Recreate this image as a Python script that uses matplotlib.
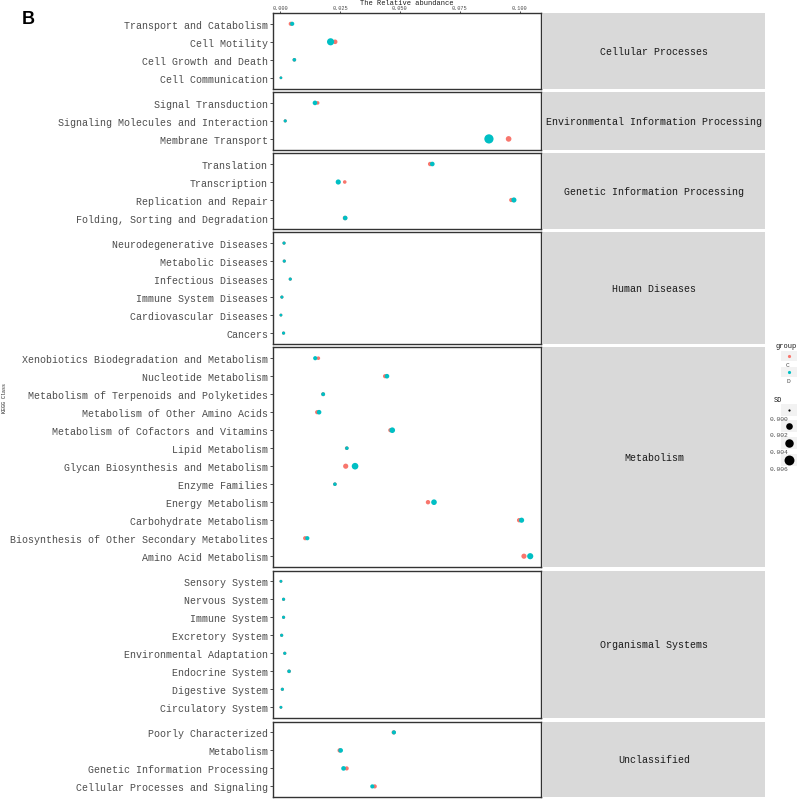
import numpy as np
import matplotlib
matplotlib.use("Agg")
import matplotlib.pyplot as plt
from matplotlib.patches import Rectangle

# KEGG level-1 classes (facet order)
classes = ["Cellular Processes", "Environmental Information Processing",
           "Genetic Information Processing", "Human Diseases", "Metabolism",
           "Organismal Systems", "Unclassified"]

# pathways, top to bottom within each class
pathway = [
    "Transport and Catabolism", "Cell Motility", "Cell Growth and Death", "Cell Communication",
    "Signal Transduction", "Signaling Molecules and Interaction", "Membrane Transport",
    "Translation", "Transcription", "Replication and Repair", "Folding, Sorting and Degradation",
    "Neurodegenerative Diseases", "Metabolic Diseases", "Infectious Diseases",
    "Immune System Diseases", "Cardiovascular Diseases", "Cancers",
    "Xenobiotics Biodegradation and Metabolism", "Nucleotide Metabolism",
    "Metabolism of Terpenoids and Polyketides", "Metabolism of Other Amino Acids",
    "Metabolism of Cofactors and Vitamins", "Lipid Metabolism",
    "Glycan Biosynthesis and Metabolism", "Enzyme Families", "Energy Metabolism",
    "Carbohydrate Metabolism", "Biosynthesis of Other Secondary Metabolites",
    "Amino Acid Metabolism",
    "Sensory System", "Nervous System", "Immune System", "Excretory System",
    "Environmental Adaptation", "Endocrine System", "Digestive System", "Circulatory System",
    "Poorly Characterized", "Metabolism", "Genetic Information Processing",
    "Cellular Processes and Signaling",
]
kegg_class = ([0] * 4 + [1] * 3 + [2] * 4 + [3] * 6 + [4] * 12 + [5] * 8 + [6] * 4)

# relative abundance, group C and D
abund_C = [0.0045, 0.0230, 0.0060, 0.0004,
           0.0157, 0.0022, 0.0953,
           0.0626, 0.0270, 0.0964, 0.0271,
           0.0017, 0.0018, 0.0043, 0.0008, 0.0004, 0.0015,
           0.0160, 0.0438, 0.0180, 0.0155, 0.0460, 0.0278, 0.0274, 0.0229, 0.0617,
           0.0997, 0.0105, 0.1017,
           0.0004, 0.0015, 0.0015, 0.0007, 0.0020, 0.0038, 0.0010, 0.0004,
           0.0474, 0.0249, 0.0278, 0.0395]
abund_D = [0.0051, 0.0211, 0.0060, 0.0004,
           0.0146, 0.0022, 0.0871,
           0.0635, 0.0243, 0.0975, 0.0272,
           0.0017, 0.0018, 0.0043, 0.0008, 0.0004, 0.0015,
           0.0147, 0.0446, 0.0180, 0.0163, 0.0468, 0.0279, 0.0313, 0.0229, 0.0642,
           0.1007, 0.0114, 0.1043,
           0.0004, 0.0015, 0.0015, 0.0007, 0.0020, 0.0038, 0.0010, 0.0004,
           0.0475, 0.0253, 0.0265, 0.0385]

# standard deviation (point size)
sd_C = [0.0004, 0.0006, 0.0002, 0.00003,
        0.0002, 0.0001, 0.0012,
        0.0005, 0.0002, 0.0004, 0.0005,
        0.0001, 0.0001, 0.0001, 0.0001, 0.00005, 0.0001,
        0.0002, 0.0004, 0.0003, 0.0004, 0.0004, 0.0002, 0.0009, 0.0002, 0.0005,
        0.0005, 0.0004, 0.0009,
        0.00005, 0.0001, 0.0001, 0.0001, 0.0001, 0.0002, 0.0001, 0.00005,
        0.0004, 0.0005, 0.0004, 0.0004]
sd_D = [0.0004, 0.0025, 0.0002, 0.00003,
        0.0006, 0.0001, 0.0050,
        0.0006, 0.0009, 0.0009, 0.0006,
        0.0001, 0.0001, 0.0001, 0.0001, 0.00005, 0.0001,
        0.0004, 0.0006, 0.0003, 0.0006, 0.0012, 0.0002, 0.0020, 0.0002, 0.0012,
        0.0009, 0.0004, 0.0016,
        0.00005, 0.0001, 0.0001, 0.0001, 0.0001, 0.0002, 0.0001, 0.00005,
        0.0004, 0.0006, 0.0006, 0.0004]

x_ticks = [0.0, 0.025, 0.05, 0.075, 0.1]
sd_breaks = [0.0, 0.002, 0.004, 0.006]

col_C = "#F8766D"
col_D = "#00BFC4"
txt_col = "#4D4D4D"
mono = "Liberation Mono"

W, H = 798, 803


def pt_size(sd):
    d = 2.2 + 8 * np.sqrt(np.asarray(sd) / 0.0065)  # diameter in px
    return (d * 0.72) ** 2


fig = plt.figure(figsize=(W / 100, H / 100), dpi=100)

px_left, px_right = 273, 541
strip_l, strip_r = 543, 765
row_px = 18.0
gap_px = 3.5
top_px = 14

abund_C = np.array(abund_C)
abund_D = np.array(abund_D)
sd_C = np.array(sd_C)
sd_D = np.array(sd_D)
kegg_class = np.array(kegg_class)

y0 = top_px
for k, cname in enumerate(classes):
    idx = np.where(kegg_class == k)[0]
    n = len(idx)
    h = (n + 0.2) * row_px
    ax = fig.add_axes([px_left / W, 1 - (y0 + h) / H, (px_right - px_left) / W, h / H])
    ys = np.arange(n)[::-1]
    ax.scatter(abund_C[idx], ys, s=pt_size(sd_C[idx]), color=col_C, linewidths=0, zorder=2)
    ax.scatter(abund_D[idx], ys, s=pt_size(sd_D[idx]), color=col_D, linewidths=0, zorder=3)
    ax.set_ylim(-0.6, n - 0.4)
    ax.set_xlim(-0.0029, 0.1088)
    ax.set_yticks(ys)
    ax.set_yticklabels([pathway[i] for i in idx], family=mono, fontsize=7.2, color=txt_col)
    ax.tick_params(axis="y", length=2, width=0.6, color="#333333", pad=1.5)
    ax.set_xticks(x_ticks)
    if k == 0:
        ax.xaxis.tick_top()
        ax.set_xticklabels(["%.3f" % v for v in x_ticks], family=mono, fontsize=3.8, color=txt_col)
        ax.tick_params(axis="x", length=1.5, width=0.6, color="#333333", pad=0.5)
    else:
        ax.tick_params(axis="x", length=0, labelbottom=False)
    for s in ax.spines.values():
        s.set_color("#333333")
        s.set_linewidth(1.0)

    # facet strip on the right
    sax = fig.add_axes([strip_l / W, 1 - (y0 + h) / H, (strip_r - strip_l) / W, h / H])
    sax.set_facecolor("#D9D9D9")
    sax.set_xticks([])
    sax.set_yticks([])
    for s in sax.spines.values():
        s.set_visible(False)
    sax.text(0.5, 0.5, cname, ha="center", va="center", family=mono, fontsize=7.2,
             color="#1A1A1A", transform=sax.transAxes)
    y0 += h + gap_px

fig.text(407 / W, 1 - 0.3 / H, "The Relative abundance", ha="center", va="top",
         family=mono, fontsize=5.0, color="#1A1A1A")
fig.text(5 / W, 1 - 398 / H, "KEGG Class", ha="center", va="center", rotation=90,
         family=mono, fontsize=3.6, color="#1A1A1A")
fig.text(22 / W, 1 - 19 / H, "B", ha="left", va="center", fontsize=13,
         fontweight="bold", family="Liberation Sans")

# legend drawn in figure pixel coordinates
lax = fig.add_axes([0, 0, 1, 1], facecolor="none")
lax.set_xlim(0, W)
lax.set_ylim(H, 0)
lax.axis("off")
key_x = 789
lax.text(776, 347, "group", family=mono, fontsize=5, color="#1A1A1A", ha="left", va="center")
for yk, col, lab in [(357, col_C, "C"), (373, col_D, "D")]:
    lax.add_patch(Rectangle((781, yk - 5), 16, 10, color="#F2F2F2", lw=0))
    lax.scatter([key_x], [yk], s=(2.5 * 0.72) ** 2 * 1.6, color=col, linewidths=0)
    lax.text(key_x - 1, yk + 9, lab, family=mono, fontsize=4.5, color=txt_col, ha="center", va="center")
lax.text(774, 401, "SD", family=mono, fontsize=5, color="#1A1A1A", ha="left", va="center")
for yk, v in zip([411, 427, 444, 461], sd_breaks):
    lax.add_patch(Rectangle((781, yk - 6), 16, 12, color="#F2F2F2", lw=0))
    lax.scatter([key_x], [yk], s=pt_size(v), color="black", linewidths=0)
    lax.text(779, yk + 8.5, "%.3f" % v, family=mono, fontsize=4.5, color=txt_col, ha="center", va="center")

fig.savefig("out.png", dpi=100)
